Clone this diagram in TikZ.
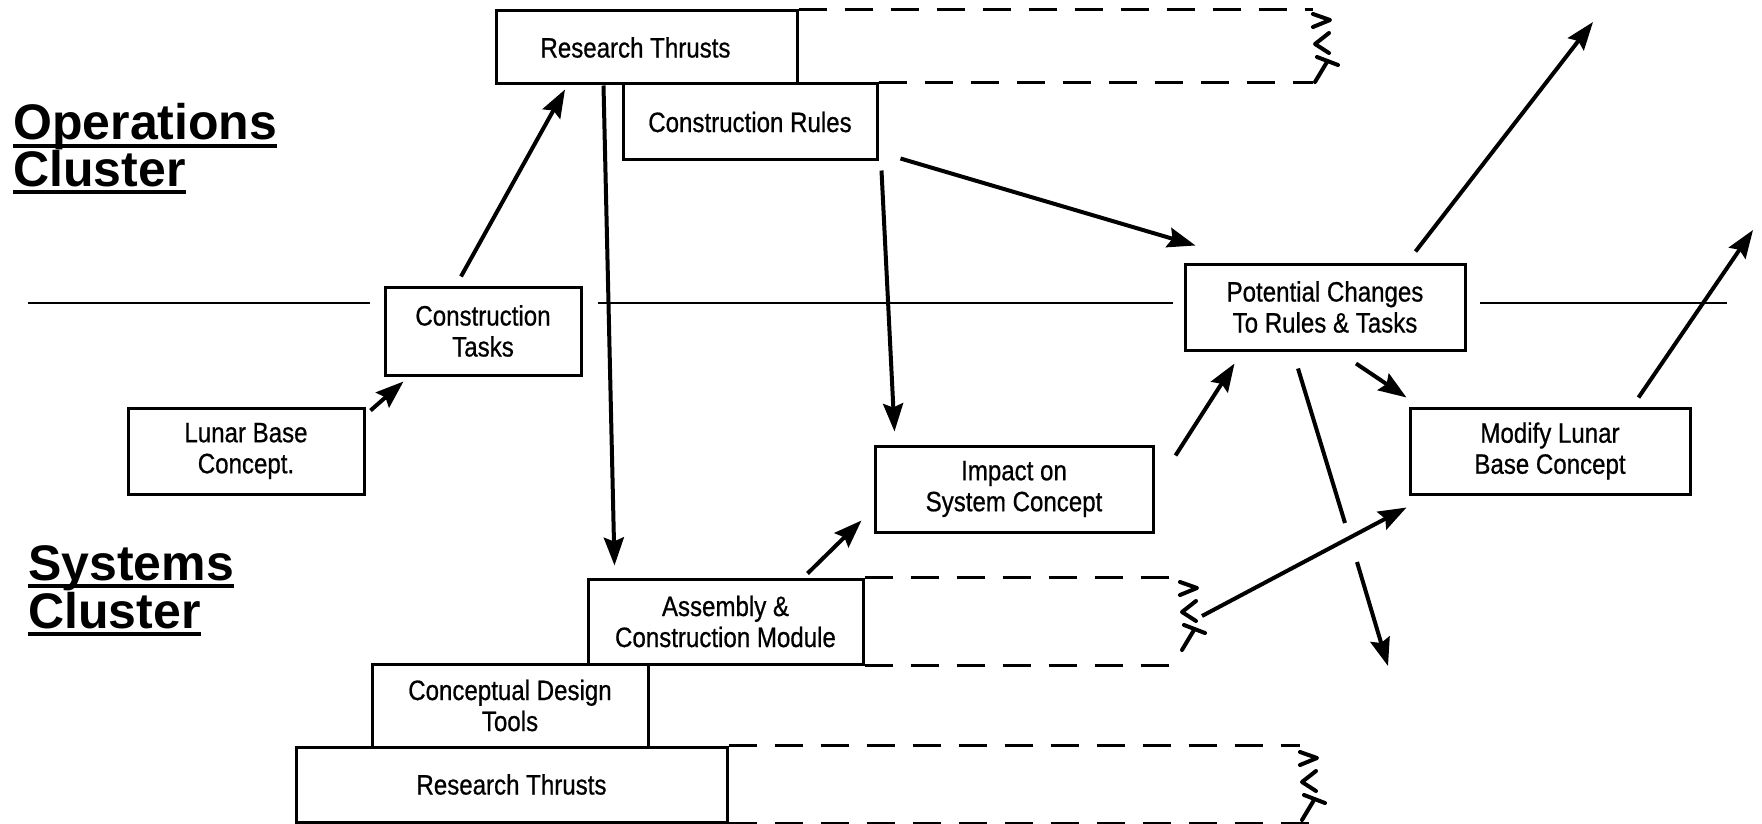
\documentclass[tikz,border=0pt]{standalone}
\usepackage{fontspec}
\newfontfamily\boxfont{Liberation Sans}[FakeStretch=0.86, FakeBold=0.7]
\newfontfamily\headfont{Liberation Sans}
\usetikzlibrary{arrows.meta}

\newcommand\clusterline[1]{\setbox0\hbox{#1}\rlap{\rule[-4pt]{\wd0}{2pt}}\box0}
\newcommand\breakmark[1]{%
    \draw [brk] ([shift={(0,3)}]#1) -- ++(17,6) -- ++(-17,7);
    \draw [brk] ([shift={(16,22)}]#1) -- ++(-14,11) -- ++(14,9);
    \draw [brk] ([shift={(2,71)}]#1) -- ++(12,-20);
    \draw [brk] ([shift={(4,46)}]#1) -- ++(21,8);
}

\begin{document}
\begin{tikzpicture}[x=0.5pt, y=-0.5pt,
    box/.style={draw, line width=1.5pt, inner sep=0pt, align=center,
        font=\boxfont\fontsize{14pt}{15.5pt}\selectfont},
    arr/.style={line width=2pt, -{Stealth[length=14pt, width=10pt, inset=2pt]}},
    dashline/.style={line width=1.5pt, dash pattern=on 14pt off 9pt},
    divider/.style={line width=1pt},
    brk/.style={line width=2pt, line cap=round, line join=round},
    heading/.style={anchor=base west, inner sep=0pt,
        font=\headfont\bfseries\fontsize{25pt}{25pt}\selectfont}]
    \useasboundingbox (0,0) rectangle (1762,824);

    \node [heading] (opsA) at (13,140) {\clusterline{Operations}};
    \node [heading] (opsB) at (13,186) {\clusterline{Cluster}};
    \node [heading] (sysA) at (28,580) {\clusterline{Systems}};
    \node [heading] (sysB) at (28,628) {\clusterline{Cluster}};

    \node [box, minimum width=150.5pt, minimum height=36.5pt] (rtop) at (646.5,47.5) {\raisebox{-2pt}{Research Thrusts}\hspace{11pt}};
    \node [box, minimum width=127pt, minimum height=38pt] (rules) at (750,122) {Construction Rules};
    \node [box, minimum width=98pt, minimum height=44pt] (tasks) at (483,331) {Construction\\Tasks};
    \node [box, minimum width=118pt, minimum height=43pt] (lunar) at (246,451) {Lunar Base\\Concept.};
    \node [box, minimum width=139pt, minimum height=43pt] (impact) at (1014,489) {Impact on\\System Concept};
    \node [box, minimum width=140pt, minimum height=43pt] (changes) at (1325,307) {Potential Changes\\To Rules \& Tasks};
    \node [box, minimum width=140pt, minimum height=43pt] (modify) at (1550,451) {Modify Lunar\\Base Concept};
    \node [box, minimum width=137.5pt, minimum height=42.5pt] (assembly) at (725.5,621.5) {Assembly \&\\Construction Module};
    \node [box, minimum width=138pt, minimum height=41.5pt] (tools) at (510,705.5) {Conceptual Design\\Tools};
    \node [box, minimum width=215.5pt, minimum height=37.5pt] (rbottom) at (511.5,784.5) {Research Thrusts};

    \coordinate (brkA) at (1313,11);
    \coordinate (brkB) at (1180,579);
    \coordinate (brkC) at (1300,749);
    \coordinate (brkBout) at (1202,616);
    \coordinate (upA) at (1593,22);
    \coordinate (upB) at (1753,230);
    \coordinate (gapA) at (1345,523);
    \coordinate (gapB) at (1357,562);
    \coordinate (downend) at (1388,666);
    \coordinate (l0) at (28,303);
    \coordinate (l1) at (1727,303);

    \draw [dashline] (rtop.north east) -- (rtop.north east -| brkA);
    \draw [dashline] (rules.north east) -- (rules.north east -| brkA);
    \draw [dashline] (assembly.north east) -- (assembly.north east -| brkB);
    \draw [dashline] (assembly.south east) -- (assembly.south east -| brkB);
    \draw [dashline] (rbottom.north east) -- (rbottom.north east -| brkC);
    \draw [dashline] (rbottom.south east) -- ([shift={(15,0)}]rbottom.south east -| brkC);
    \breakmark{brkA}
    \breakmark{brkB}
    \breakmark{brkC}

    \draw [divider, shorten >=7pt] (l0) -- (l0 -| tasks.west);
    \draw [divider, shorten <=7.5pt, shorten >=5.5pt] (l0 -| tasks.east) -- (l0 -| changes.west);
    \draw [divider, shorten <=6.5pt] (l0 -| changes.east) -- (l1);

    \draw [arr] ([shift={(5,4)}]lunar.north east) -- ([shift={(20,5)}]tasks.south west);
    \draw [arr] ([shift={(-22,-9)}]tasks.north) -- ([shift={(-81.5,4)}]rtop.south);
    \draw [arr] ([shift={(109,0)}]rtop.south west) -- ([shift={(28,-12)}]assembly.north west);
    \draw [arr] ([shift={(3,9)}]rules.south east) -- ([shift={(21,-13)}]impact.north west);
    \draw [arr] ([shift={(22,-3)}]rules.south east) -- ([shift={(12,-17)}]changes.north west);
    \draw [arr] ([shift={(-57,-4)}]assembly.north east) -- ([shift={(-12,-13)}]impact.south west);
    \draw [arr] ([shift={(21,11)}]impact.north east) -- ([shift={(51,12)}]changes.south west);
    \draw [arr] ([shift={(-51,-11)}]changes.north east) -- (upA);
    \draw [arr] ([shift={(31,12)}]changes.south) -- ([shift={(-2,-9)}]modify.north west);
    \draw [arr] ([shift={(-53,-9)}]modify.north east) -- (upB);
    \draw [line width=2pt] ([shift={(-27,17)}]changes.south) -- (gapA);
    \draw [arr] (gapB) -- (downend);
    \draw [arr] (brkBout) -- ([shift={(-2,12)}]modify.south west);
\end{tikzpicture}
\end{document}
